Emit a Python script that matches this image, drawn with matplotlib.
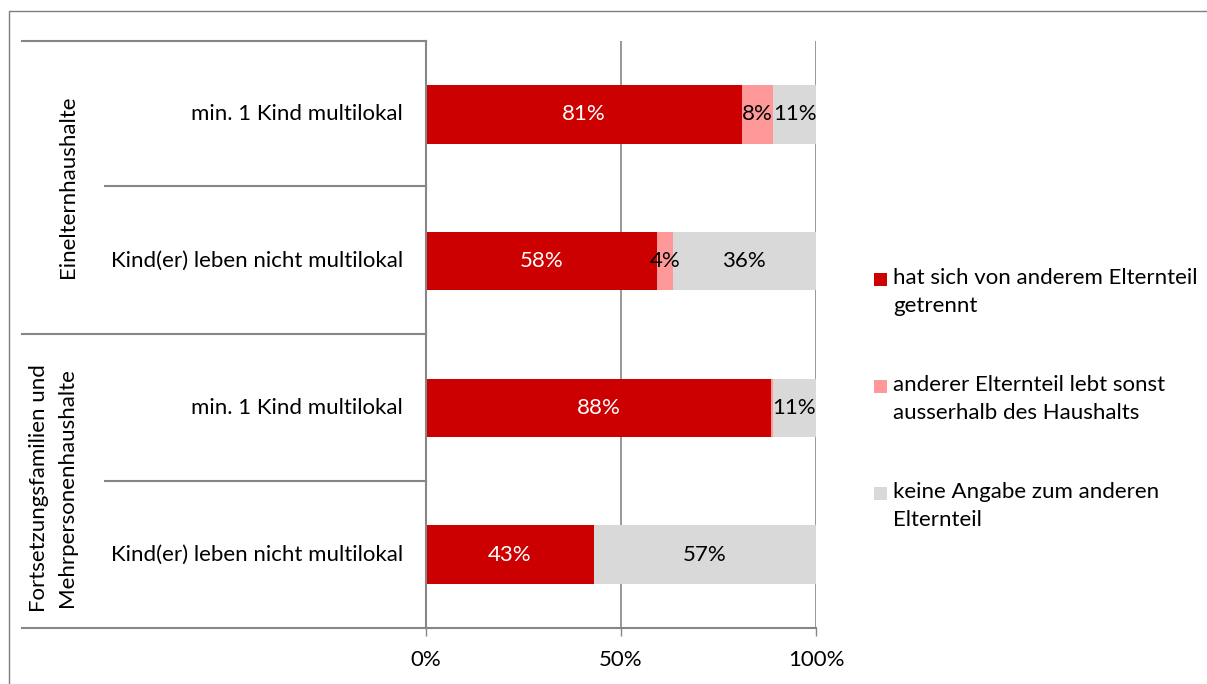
import matplotlib
matplotlib.use("Agg")
import matplotlib.pyplot as plt
from matplotlib.lines import Line2D
from matplotlib.patches import Rectangle
import numpy as np

plt.rcParams['font.family'] = ['Lato', 'DejaVu Sans']

# Data (percent shares per row, top to bottom)
groups = ["Einelternhaushalte", "Fortsetzungsfamilien und\nMehrpersonenhaushalte"]
categories = ["min. 1 Kind multilokal", "Kind(er) leben nicht multilokal",
              "min. 1 Kind multilokal", "Kind(er) leben nicht multilokal"]
series_names = ["hat sich von anderem Elternteil\ngetrennt",
                "anderer Elternteil lebt sonst\nausserhalb des Haushalts",
                "keine Angabe zum anderen\nElternteil"]
getrennt = [81, 58, 88, 43]
ausserhalb = [8, 4, 0.5, 0]
keine_angabe = [11, 36, 11, 57]
show_label = [[True, True, True, True],
              [True, True, False, False],
              [True, True, True, True]]
colors = ["#CC0000", "#FF9999", "#D9D9D9"]
label_colors = ["white", "black", "black"]
xticks = [0, 0.5, 1.0]
xticklabels = ["0%", "50%", "100%"]

W, H = 1207, 684
fig = plt.figure(figsize=(W / 100, H / 100), dpi=100)

def fx(px):
    return px / W

def fy(py):
    return 1 - py / H

x0, x1, y0, y1 = 426, 816, 41, 628
ax = fig.add_axes([fx(x0), fy(y1), fx(x1) - fx(x0), fy(y0) - fy(y1)])

data = np.array([getrennt, ausserhalb, keine_angabe], dtype=float)
totals = data.sum(axis=0)
shares = data / totals  # 100% stacked
ypos = np.arange(len(categories)) + 0.5
fs = 16

left = np.zeros(len(categories))
for i in range(3):
    ax.barh(ypos, shares[i], left=left, height=0.4, color=colors[i],
            edgecolor='none', zorder=3)
    for j in range(len(categories)):
        if show_label[i][j]:
            ax.text(left[j] + shares[i][j] / 2, ypos[j], f"{data[i][j]:.0f}%",
                    ha='center', va='center', fontsize=fs,
                    color=label_colors[i], zorder=4)
    left += shares[i]

ax.set_xlim(0, 1)
ax.set_ylim(len(categories), 0)
for s in ax.spines.values():
    s.set_visible(False)
ax.set_yticks([])
ax.set_xticks(xticks)
ax.set_xticklabels(xticklabels, fontsize=fs)
ax.tick_params(axis='x', length=6, width=1, color='#868686', pad=10)
for xv in xticks:
    ax.axvline(xv, color='#868686', lw=1.2, zorder=1)

lc = '#868686'
lw = 1.5
# Frame lines of the category area
fig.add_artist(Line2D([fx(22), fx(x0)], [fy(y0), fy(y0)], color=lc, lw=lw))
fig.add_artist(Line2D([fx(22), fx(x1)], [fy(y1), fy(y1)], color=lc, lw=lw))
fig.add_artist(Line2D([fx(22), fx(x0)], [fy(334), fy(334)], color=lc, lw=lw))
for yy in (186, 481):
    fig.add_artist(Line2D([fx(105), fx(x0)], [fy(yy), fy(yy)], color=lc, lw=lw))
fig.add_artist(Line2D([fx(x0 - 0.5), fx(x0 - 0.5)], [fy(y0), fy(y1)], color=lc, lw=lw))

# Outer chart border
fig.add_artist(Line2D([fx(9), fx(9), fx(1206)], [fy(700), fy(11), fy(11)],
                      color='#7f7f7f', lw=1.0))

# Category labels
for j, cat in enumerate(categories):
    ax.text(-23 / (x1 - x0), ypos[j], cat, ha='right', va='center', fontsize=fs,
            transform=ax.transData)

# Group labels
fig.text(fx(68), fy(187), groups[0], rotation=90, ha='center', va='center', fontsize=fs)
fig.text(fx(53), fy(488), groups[1], rotation=90, ha='center', va='center',
         multialignment='center', fontsize=fs, linespacing=1.5)

# Legend
leg_y = [279, 386, 493]
for i in range(3):
    fig.add_artist(Rectangle((fx(874), fy(leg_y[i] + 6.5)), fx(13), 13 / H,
                             facecolor=colors[i], edgecolor='none'))
    fig.text(fx(893), fy(leg_y[i] - 11), series_names[i], ha='left', va='top',
             fontsize=fs, linespacing=1.52)

fig.savefig("out.png", dpi=100)
